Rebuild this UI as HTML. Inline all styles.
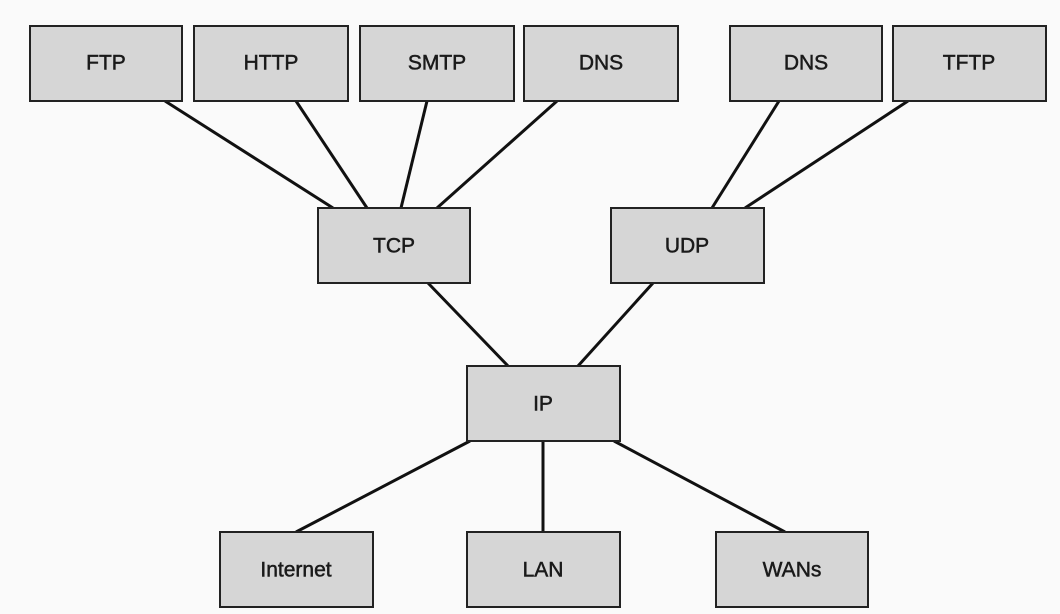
<!DOCTYPE html>
<html><head><style>
body{margin:0;background:#fafafa;}
svg{display:block}
text{font-family:"Liberation Sans",sans-serif;font-size:21px;fill:#1a1a1a;stroke:#1a1a1a;stroke-width:0.5;text-anchor:middle;dominant-baseline:central}
rect{fill:#d6d6d6;stroke:#222;stroke-width:2}
line{stroke:#111;stroke-width:3}
</style></head><body>
<svg width="1060" height="614" viewBox="0 0 1060 614">
<line x1="165" y1="101" x2="333" y2="208"/>
<line x1="296" y1="101" x2="367" y2="208"/>
<line x1="427" y1="101" x2="401" y2="208"/>
<line x1="557" y1="101" x2="437" y2="208"/>
<line x1="779" y1="101" x2="712" y2="208"/>
<line x1="908" y1="101" x2="745" y2="208"/>
<line x1="428" y1="283" x2="508" y2="366"/>
<line x1="653" y1="283" x2="578" y2="366"/>
<line x1="470" y1="441" x2="296" y2="532"/>
<line x1="543" y1="441" x2="543" y2="532"/>
<line x1="614" y1="441" x2="785" y2="532"/>
<rect x="30" y="26" width="152" height="75"/><text x="106" y="63">FTP</text>
<rect x="194" y="26" width="154" height="75"/><text x="271" y="63">HTTP</text>
<rect x="360" y="26" width="154" height="75"/><text x="437" y="63">SMTP</text>
<rect x="524" y="26" width="154" height="75"/><text x="601" y="63">DNS</text>
<rect x="730" y="26" width="152" height="75"/><text x="806" y="63">DNS</text>
<rect x="893" y="26" width="153" height="75"/><text x="969" y="63">TFTP</text>
<rect x="318" y="208" width="152" height="75"/><text x="394" y="246">TCP</text>
<rect x="611" y="208" width="153" height="75"/><text x="687" y="246">UDP</text>
<rect x="467" y="366" width="153" height="75"/><text x="543" y="404">IP</text>
<rect x="220" y="532" width="153" height="75"/><text x="296" y="570">Internet</text>
<rect x="467" y="532" width="153" height="75"/><text x="543" y="570">LAN</text>
<rect x="716" y="532" width="152" height="75"/><text x="792" y="570">WANs</text>
</svg>
</body></html>
